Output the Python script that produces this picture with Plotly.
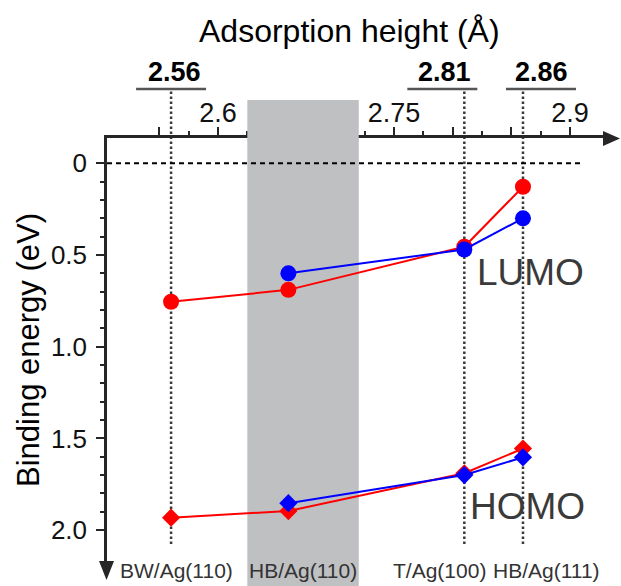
import plotly.graph_objects as go

# ---- data -------------------------------------------------------------
sites = ["BW/Ag(110)", "HB/Ag(110)", "T/Ag(100)", "HB/Ag(111)"]
heights = [2.56, 2.66, 2.81, 2.86]          # adsorption height (Å)
lumo_red = [0.755, 0.69, 0.455, 0.128]
homo_red = [1.932, 1.896, 1.69, 1.555]
lumo_blue = [0.60, 0.47, 0.30]              # HB/Ag(110), T/Ag(100), HB/Ag(111)
homo_blue = [1.853, 1.70, 1.603]
blue_heights = heights[1:]

marked_heights = [2.56, 2.81, 2.86]
marked_labels = ["2.56", "2.81", "2.86"]
hb110_band = [2.625, 2.72]

x_major = [2.55, 2.60, 2.65, 2.70, 2.75, 2.80, 2.85, 2.90]
x_major_text = ["", "2.6", "", "", "2.75", "", "", "2.9"]
x_minor = [2.575, 2.625, 2.675, 2.725, 2.775, 2.825, 2.875]
y_major = [0, 0.5, 1.0, 1.5, 2.0]
y_major_text = ["0", "0.5", "1.0", "1.5", "2.0"]
y_minor = [0.1, 0.2, 0.3, 0.4, 0.6, 0.7, 0.8, 0.9, 1.1, 1.2, 1.3, 1.4,
           1.6, 1.7, 1.8, 1.9]

# ---- geometry helpers (figure pixels -> paper fractions) --------------
W, H = 621, 586
def px(x):
    return x / W
def py(y):
    return 1 - y / H

AX_LEFT, AX_RIGHT, AX_TOP, AX_BOTTOM = 107, 612, 138, 565
X_RANGE = [2.6 + (AX_LEFT - 218) / 1173, 2.6 + (AX_RIGHT - 218) / 1173]
Y_RANGE = [(AX_BOTTOM - 163.3) / 183.4, (AX_TOP - 163.3) / 183.4]

RED, BLUE = "#ff0000", "#0000ff"
AXC = "#262626"
FONT = "Liberation Sans"

fig = go.Figure()

def series(x, y, color, symbol, size):
    fig.add_trace(go.Scatter(
        x=x, y=y, mode="lines+markers",
        line=dict(color=color, width=2),
        marker=dict(color=color, symbol=symbol, size=size, line=dict(width=0)),
        cliponaxis=False, showlegend=False, hoverinfo="x+y"))

series(heights, lumo_red, RED, "circle", 16)
series(heights, homo_red, RED, "diamond", 14)
series(blue_heights, lumo_blue, BLUE, "circle", 16)
series(blue_heights, homo_blue, BLUE, "diamond", 14)

shapes = []
# grey band for HB/Ag(110): lower part under the data, upper part over the axis line
shapes.append(dict(type="rect", xref="x", yref="paper", x0=hb110_band[0], x1=hb110_band[1],
                   y0=0, y1=py(139), fillcolor="#bfc0c2", line=dict(width=0), layer="below"))
shapes.append(dict(type="rect", xref="x", yref="paper", x0=hb110_band[0], x1=hb110_band[1],
                   y0=py(141), y1=py(100), fillcolor="#bfc0c2", line=dict(width=0), layer="above"))
# zero binding energy reference
shapes.append(dict(type="line", xref="x", yref="y", x0=X_RANGE[0], x1=2.6 + (580 - 218) / 1173,
                   y0=0, y1=0, line=dict(color="black", width=2, dash="5px,4px"), layer="above"))
# dotted guides and underline bars for the marked heights
bar_shift = [0, -22, 18]
for h, s in zip(marked_heights, bar_shift):
    shapes.append(dict(type="line", xref="x", yref="paper", x0=h, x1=h, y0=py(544), y1=py(89),
                       line=dict(color="#3a3a3a", width=2.5, dash="2.5px,2.5px"), layer="below"))
    shapes.append(dict(type="line", xref="x", yref="paper", xsizemode="pixel", xanchor=h,
                       x0=s - 35, x1=s + 35, y0=py(89), y1=py(89),
                       line=dict(color="#555555", width=2.5)))
# axis arrowheads
shapes.append(dict(type="path", xref="paper", yref="paper",
                   path=f"M {px(603)},{py(131)} L {px(620)},{py(138.5)} L {px(603)},{py(146)} Z",
                   fillcolor=AXC, line=dict(width=0), layer="above"))
shapes.append(dict(type="path", xref="paper", yref="paper",
                   path=f"M {px(99)},{py(561)} L {px(114)},{py(561)} L {px(106.5)},{py(580)} Z",
                   fillcolor=AXC, line=dict(width=0), layer="above"))

def note(x, y, text, size, color="black", xref="paper", xshift=0, angle=0):
    return dict(xref=xref, yref="paper", x=x, y=y, xshift=xshift, text=text, textangle=angle,
                xanchor="center", yanchor="middle", showarrow=False,
                font=dict(size=size, color=color))

annotations = [
    note(px(350), py(31), "Adsorption height (Å)", 32),
    note(px(28), py(350), "Binding energy (eV)", 31, angle=-90),
]
label_shift = [3, -20, 19]
for h, t, s in zip(marked_heights, marked_labels, label_shift):
    annotations.append(note(h, py(72), f"<b>{t}</b>", 27, xref="x", xshift=s))
site_shift = [5, 15, -25, 24]
for h, t, s in zip(heights, sites, site_shift):
    annotations.append(note(h, py(570), t, 21, color="#333333", xref="x", xshift=s))
annotations.append(note(px(530), py(272), "LUMO", 37, color="#3a3a3a"))
annotations.append(note(px(527), py(506), "HOMO", 37, color="#3a3a3a"))

fig.update_layout(
    width=W, height=H, margin=dict(l=0, r=0, t=0, b=0),
    paper_bgcolor="white", plot_bgcolor="rgba(0,0,0,0)",
    font=dict(family=FONT, color="black"),
    shapes=shapes, annotations=annotations,
    xaxis=dict(domain=[px(AX_LEFT), px(AX_RIGHT)], range=X_RANGE, side="top",
               showline=True, linecolor=AXC, linewidth=2.5, showgrid=False, zeroline=False,
               ticks="outside", ticklen=8, tickwidth=1.5, tickcolor=AXC,
               tickmode="array", tickvals=x_major, ticktext=x_major_text,
               tickfont=dict(size=27, color="#111111"), ticklabelstandoff=-6,
               minor=dict(tickmode="array", tickvals=x_minor, ticks="outside",
                          ticklen=4, tickwidth=1.5, tickcolor=AXC, showgrid=False)),
    yaxis=dict(domain=[py(AX_BOTTOM), py(AX_TOP)], range=Y_RANGE,
               showline=True, linecolor=AXC, linewidth=2.5, showgrid=False, zeroline=False,
               ticks="outside", ticklen=8, tickwidth=1.5, tickcolor=AXC,
               tickmode="array", tickvals=y_major, ticktext=y_major_text,
               tickfont=dict(size=26, color="#111111"), ticklabelstandoff=4,
               minor=dict(tickmode="array", tickvals=y_minor, ticks="outside",
                          ticklen=4, tickwidth=1.5, tickcolor=AXC, showgrid=False)),
)

fig.write_html("out.html")
